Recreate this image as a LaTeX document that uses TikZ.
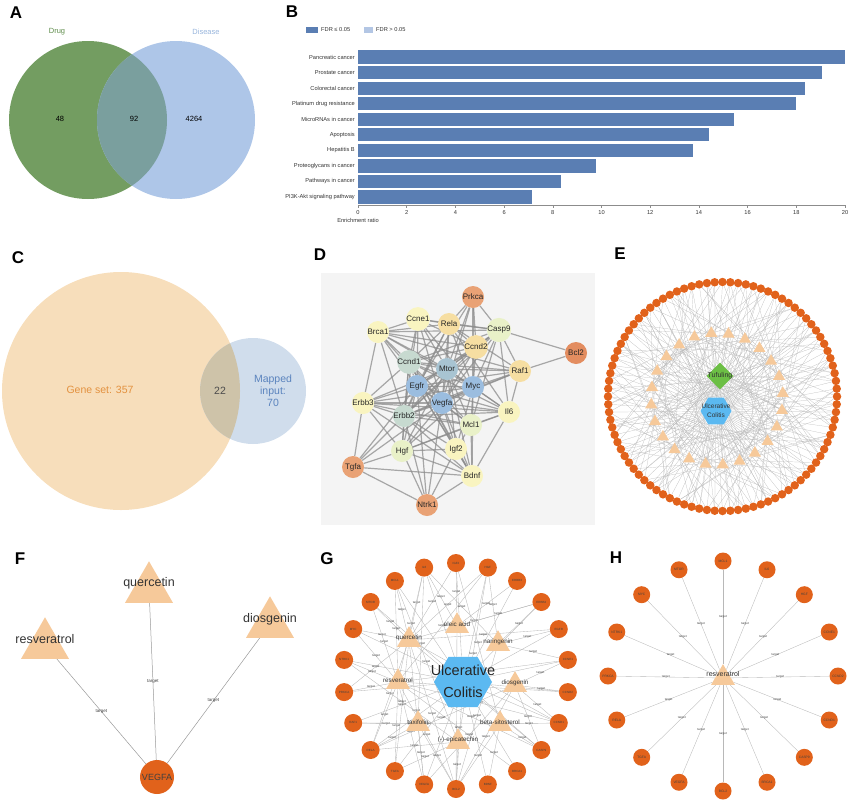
\documentclass[tikz,border=0pt]{standalone}
\usepackage{fontspec}
\setmainfont{Liberation Sans}
\usetikzlibrary{shapes.geometric}
\pgfdeclarelayer{background}
\pgfsetlayers{background,main}

\definecolor{vgreen}{HTML}{739D61}
\definecolor{vblue}{HTML}{AEC6E8}
\definecolor{vmix}{HTML}{7A9F9E}
\definecolor{drugtxt}{HTML}{5E8C4A}
\definecolor{distxt}{HTML}{98B5DC}
\definecolor{barblue}{HTML}{5A7EB3}
\definecolor{barlight}{HTML}{B3C6E4}
\definecolor{corange}{HTML}{F7DEBB}
\definecolor{cblue}{HTML}{D0DDEC}
\definecolor{cmix}{HTML}{CEC3A9}
\definecolor{cotxt}{HTML}{E3913F}
\definecolor{cbtxt}{HTML}{5B84BE}
\definecolor{dback}{HTML}{F4F4F4}
\definecolor{dora}{HTML}{E9A275}
\definecolor{dred}{HTML}{E38D60}
\definecolor{dyel}{HTML}{F9F4C0}
\definecolor{dpea}{HTML}{F6DEA2}
\definecolor{dlim}{HTML}{E9F1C8}
\definecolor{dsag}{HTML}{C7DAD0}
\definecolor{dsteel}{HTML}{A8C4D2}
\definecolor{dsky}{HTML}{9BBDDF}
\definecolor{geneorange}{HTML}{E1621B}
\definecolor{drugtan}{HTML}{F6C99A}
\definecolor{ucblue}{HTML}{5BB9F1}
\definecolor{tfgreen}{HTML}{6CBF45}

\tikzset{
  panel/.style={inner sep=0pt, font=\fontsize{17}{17}\selectfont\bfseries},
  venntxt/.style={inner sep=0pt, font=\fontsize{7.5}{7.5}\selectfont},
  barlbl/.style={inner sep=0pt, text=black!80, font=\fontsize{5.7}{6}\selectfont},
  ctxt/.style={inner sep=0pt, font=\fontsize{10.5}{12}\selectfont},
  ppi/.style={circle, inner sep=0pt, minimum size=22pt, text=black!85, font=\fontsize{8}{8}\selectfont},
  ppilink/.style={draw=black!45, line width=1.2pt, opacity=0.75},
  egene/.style={circle, fill=geneorange, inner sep=0pt, minimum size=8.5pt},
  edrug/.style={regular polygon, regular polygon sides=3, fill=drugtan, inner sep=0pt, minimum size=14pt},
  elink/.style={draw=black!28, line width=0.2pt},
  drug/.style={regular polygon, regular polygon sides=3, fill=drugtan, inner sep=0pt},
  gene/.style={circle, fill=geneorange, inner sep=0pt, text=black!75},
  hexa/.style={regular polygon, regular polygon sides=6, fill=ucblue, inner sep=0pt},
  link/.style={draw=black!28, line width=0.35pt},
  tgt/.style={inner sep=0pt, text=black!75, font=\fontsize{3}{3}\selectfont},
  dname/.style={inner sep=0pt, text=black!80},
}

\begin{document}
\begin{tikzpicture}[x=1pt, y=-1pt]
\useasboundingbox (0,0) rectangle (850,803);

% A: venn drug / disease
\node[panel] (pA) at (16,13) {A};
\fill[vgreen] (88,120) circle (79pt);
\fill[vblue] (176,120) circle (79pt);
\begin{scope}
  \clip (88,120) circle (79pt);
  \fill[vmix] (176,120) circle (79pt);
\end{scope}
\node[venntxt, text=drugtxt] (aDrug) at (57,32) {Drug};
\node[venntxt, text=distxt] (aDis) at (206,32) {Disease};
\node[venntxt] (aLeft) at (60,119) {48};
\node[venntxt] (aMid) at (134,119) {92};
\node[venntxt] (aRight) at (194,119) {4264};

% B: enrichment bars
\node[panel] (pB) at (292,12) {B};
\fill[barblue] (306,27) rectangle (318,33);
\node[barlbl, anchor=west] (bKey1) at (321,30) {FDR ≤ 0.05};
\fill[barlight] (364,27) rectangle (373,33);
\node[barlbl, anchor=west] (bKey2) at (376,30) {FDR > 0.05};
\foreach \v/\t [count=\i from 0] in {20/Pancreatic cancer, 19.04/Prostate cancer, 18.37/Colorectal cancer, 18.0/Platinum drug resistance, 15.44/MicroRNAs in cancer, 14.43/Apoptosis, 13.74/Hepatitis B, 9.77/Proteoglycans in cancer, 8.32/Pathways in cancer, 7.13/PI3K-Akt signaling pathway} {
  \fill[barblue] (358,{57+15.56*\i-6.6}) rectangle ({358+24.35*\v},{57+15.56*\i+6.6});
  \node[barlbl, anchor=east] (bRow\i) at (355,{57+15.56*\i}) {\t};
}
\draw[black!45, line width=0.6pt] (358,205) -- (845,205);
\foreach \k in {0,2,...,20} {
  \draw[black!45, line width=0.5pt] ({358+24.35*\k},205) -- ({358+24.35*\k},208);
  \node[barlbl] (bTick\k) at ({358+24.35*\k},213) {\k};
}
\node[barlbl] (bAxis) at (358,220) {Enrichment ratio};

% C: venn gene set / mapped input
\node[panel] (pC) at (18,258) {C};
\fill[corange] (121,391) circle (119pt);
\fill[cblue] (253,391) circle (53pt);
\begin{scope}
  \clip (121,391) circle (119pt);
  \fill[cmix] (253,391) circle (53pt);
\end{scope}
\node[ctxt, text=cotxt] (cGene) at (100,390) {Gene set: 357};
\node[ctxt, text=black!70] (cBoth) at (220,391) {22};
\node[ctxt, text=cbtxt, align=center] (cMap) at (273,391) {Mapped\\input:\\70};

% D: PPI network
\node[panel] (pD) at (320,255) {D};
\foreach \n/\x/\y/\c in {Prkca/473/297/dora, Ccne1/418/319/dyel, Rela/449/324/dpea, Casp9/499/330/dlim,
    Brca1/378/332/dyel, Bcl2/576/353/dred, Ccnd2/476/347/dpea, Ccnd1/409/362/dsag, Mtor/447/369/dsteel,
    Raf1/520/371/dpea, Egfr/417/386/dsky, Myc/473/387/dsky, Erbb3/363/403/dyel, Vegfa/442/403/dsky,
    Il6/509/412/dyel, Erbb2/404/416/dsag, Mcl1/471/425/dlim, Hgf/402/451/dlim, Igf2/456/449/dyel,
    Tgfa/353/467/dora, Bdnf/472/476/dyel, Ntrk1/427/505/dora}
  \node[ppi, fill=\c] (d\n) at (\x,\y) {\n};
\begin{pgfonlayer}{background}
  \fill[dback] (321,273) rectangle (595,525);
  \foreach \a/\b in {Egfr/Vegfa, Egfr/Myc, Egfr/Mtor, Egfr/Ccnd1, Egfr/Erbb2, Vegfa/Myc, Vegfa/Mtor,
      Vegfa/Ccnd1, Vegfa/Erbb2, Myc/Mtor, Myc/Ccnd1, Myc/Erbb2, Mtor/Ccnd1, Mtor/Erbb2, Ccnd1/Erbb2}
    \draw[ppilink] (d\a) -- (d\b);
  \foreach \a in {Egfr,Vegfa,Myc,Mtor,Ccnd1,Erbb2}
    \foreach \b in {Ccne1,Rela,Casp9,Brca1,Ccnd2,Raf1,Erbb3,Il6,Mcl1,Hgf,Igf2,Bdnf}
      \draw[ppilink] (d\a) -- (d\b);
  \foreach \a/\b in {Prkca/Rela, Prkca/Casp9, Prkca/Mtor, Prkca/Egfr, Prkca/Myc, Prkca/Vegfa, Prkca/Ccnd2,
      Bcl2/Casp9, Bcl2/Raf1, Tgfa/Erbb3, Tgfa/Hgf, Tgfa/Ntrk1, Tgfa/Egfr, Tgfa/Erbb2, Tgfa/Vegfa, Tgfa/Bdnf,
      Ntrk1/Hgf, Ntrk1/Bdnf, Ntrk1/Igf2, Ntrk1/Egfr, Ntrk1/Erbb2, Ntrk1/Vegfa,
      Brca1/Ccne1, Brca1/Rela, Brca1/Casp9, Brca1/Erbb3, Brca1/Ccnd2, Brca1/Raf1,
      Ccne1/Rela, Ccne1/Casp9, Ccne1/Ccnd2, Rela/Casp9, Rela/Raf1, Rela/Il6, Rela/Ccnd2,
      Casp9/Raf1, Casp9/Ccnd2, Casp9/Mcl1, Casp9/Il6, Erbb3/Hgf, Erbb3/Bdnf, Erbb3/Il6, Erbb3/Mcl1,
      Il6/Bdnf, Il6/Mcl1, Il6/Hgf, Il6/Raf1, Mcl1/Igf2, Mcl1/Bdnf, Mcl1/Hgf, Hgf/Igf2, Hgf/Bdnf, Igf2/Bdnf}
    \draw[ppilink] (d\a) -- (d\b);
\end{pgfonlayer}

% E: full herb-ingredient-target network
\node[panel] (pE) at (620,254) {E};
\begin{scope}[shift={(722.5,396.5)}]
  \foreach \i in {0,...,91}
    \node[egene] (e\i) at ({360/92*\i}:114.5) {};
\end{scope}
\begin{scope}[shift={(717,399)}]
  \foreach \i in {0,...,23}
    \node[edrug] (et\i) at ({250+15*\i}:66) {};
\end{scope}
\node[diamond, fill=tfgreen, inner sep=0pt, minimum size=27pt] (etuf) at (720,376) {};
\node[dname, font=\fontsize{7}{7}\selectfont] (etufTxt) at (etuf) {Tufuling};
\node[hexa, minimum size=31pt] (euc) at (716,411) {};
\node[dname, align=center, font=\fontsize{6.5}{9}\selectfont] (eucTxt) at (716,411) {Ulcerative\\Colitis};
\begin{pgfonlayer}{background}
  \foreach \i in {0,...,91} {
    \pgfmathtruncatemacro\ta{mod(\i*7,24)}
    \pgfmathtruncatemacro\tb{mod(\i*5+11,24)}
    \draw[elink] (e\i) -- (et\ta);
    \draw[elink] (e\i) -- (et\tb);
    \draw[elink] (e\i) -- (euc);
  }
  \foreach \i in {0,...,23}
    \draw[elink] (et\i) -- (etuf);
\end{pgfonlayer}

% F: VEGFA and its three ingredients
\node[panel] (pF) at (20,559) {F};
\node[drug, minimum size=55.4pt] (fque) at (149,589) {};
\node[drug, minimum size=55.4pt] (fres) at (45,645) {};
\node[drug, minimum size=55.4pt] (fdio) at (270,624) {};
\node[dname, font=\fontsize{12.5}{12.5}\selectfont] (fqueTxt) at (149,583) {quercetin};
\node[dname, font=\fontsize{12.5}{12.5}\selectfont] (fresTxt) at (45,639) {resveratrol};
\node[dname, font=\fontsize{12.5}{12.5}\selectfont] (fdioTxt) at (270,619) {diosgenin};
\node[gene, minimum size=34pt, font=\fontsize{9}{9}\selectfont] (fveg) at (157,777) {VEGFA};
\begin{pgfonlayer}{background}
  \foreach \d in {fres,fque,fdio}
    \draw[link, draw=black!40, line width=0.5pt] (\d) -- node[tgt, font=\fontsize{4.5}{4.5}\selectfont] {target} (fveg);
\end{pgfonlayer}

% G: core ingredients against ulcerative colitis
\node[panel] (pG) at (327,559) {G};
\begin{scope}[shift={(456,676)}]
  \foreach \g [count=\i from 0] in {IGF2,HGF,ERBB3,ERBB2,EGFR,CCNE1,CCND2,CCND1,CASP9,BRCA1,BDNF,BCL2,
      VEGFA,TGFA,RELA,RAF1,PRKCA,NTRK1,MYC,MTOR,MCL1,IL6}
    \node[gene, minimum size=18pt, font=\fontsize{3}{3}\selectfont] (g\g) at ({270+360/22*\i}:113) {\g};
\end{scope}
\node[hexa, minimum size=58pt] (guc) at (463,682) {};
\foreach \n/\x/\y/\t in {gole/457/626/oleic acid, gque/409/640/quercetin, gnar/498/644/naringenin,
    gres/398/682/resveratrol, gdio/515/685/diosgenin, gtax/418/724/taxifolin,
    gsit/500/724/beta-sitosterol, gepi/458/742/(-)-epicatechin} {
  \node[drug, minimum size=27.7pt] (\n) at (\x,\y) {};
  \node[dname, font=\fontsize{6.3}{6.3}\selectfont] (\n Txt) at (\x,{\y-2}) {\t};
}
\node[dname, align=center, text=black!85, font=\fontsize{14.5}{22}\selectfont] (gucTxt) at (463,681) {Ulcerative\\Colitis};
\begin{pgfonlayer}{background}
  \foreach \g in {IGF2,HGF,ERBB3,ERBB2,EGFR,CCNE1,CCND2,CCND1,CASP9,BRCA1,BDNF,BCL2,
      VEGFA,TGFA,RELA,RAF1,PRKCA,NTRK1,MYC,MTOR,MCL1,IL6}
    \draw[link] (guc) -- (g\g);
  \foreach \g in {IL6,IGF2,HGF,EGFR,ERBB2,CCND1,CASP9,BCL2,VEGFA,RELA,MYC,MTOR,PRKCA,TGFA,MCL1}
    \draw[link] (gque) -- node[tgt] {target} (g\g);
  \foreach \g in {IL6,IGF2,ERBB3,ERBB2,BCL2}
    \draw[link] (gole) -- node[tgt] {target} (g\g);
  \foreach \g in {ERBB2,EGFR,CCNE1,BCL2,IL6,HGF}
    \draw[link] (gnar) -- node[tgt] {target} (g\g);
  \foreach \g in {MCL1,IL6,HGF,CCNE1,CCND2,CCND1,CASP9,BRCA1,BCL2,VEGFA,TGFA,RELA,PRKCA,NTRK1,MYC,MTOR}
    \draw[link] (gres) -- node[tgt] {target} (g\g);
  \foreach \g in {CCND1,CCNE1,VEGFA,BCL2,CASP9,RELA,CCND2}
    \draw[link] (gdio) -- node[tgt] {target} (g\g);
  \foreach \g in {IL6,RELA,RAF1,BCL2,VEGFA}
    \draw[link] (gtax) -- node[tgt] {target} (g\g);
  \foreach \g in {CCND1,CASP9,BCL2,BDNF,IGF2,RAF1}
    \draw[link] (gsit) -- node[tgt] {target} (g\g);
  \foreach \g in {HGF,BCL2,MCL1,RELA,NTRK1,TGFA}
    \draw[link] (gepi) -- node[tgt] {target} (g\g);
\end{pgfonlayer}

% H: resveratrol targets
\node[panel] (pH) at (616,558) {H};
\begin{scope}[shift={(723,676)}]
  \foreach \g [count=\i from 0] in {MCL1,IL6,HGF,CCNE1,CCND2,CCND1,CASP9,BRCA1,BCL2,VEGFA,TGFA,RELA,
      PRKCA,NTRK1,MYC,MTOR}
    \node[gene, minimum size=17pt, font=\fontsize{3.3}{3.3}\selectfont] (h\g) at ({270+22.5*\i}:115) {\g};
\end{scope}
\node[drug, minimum size=27.7pt] (hres) at (723,678) {};
\node[dname, font=\fontsize{7}{7}\selectfont] (hresTxt) at (723,674) {resveratrol};
\begin{pgfonlayer}{background}
  \foreach \g in {MCL1,IL6,HGF,CCNE1,CCND2,CCND1,CASP9,BRCA1,BCL2,VEGFA,TGFA,RELA,PRKCA,NTRK1,MYC,MTOR}
    \draw[link] (hres) -- node[tgt] {target} (h\g);
\end{pgfonlayer}
\end{tikzpicture}
\end{document}
